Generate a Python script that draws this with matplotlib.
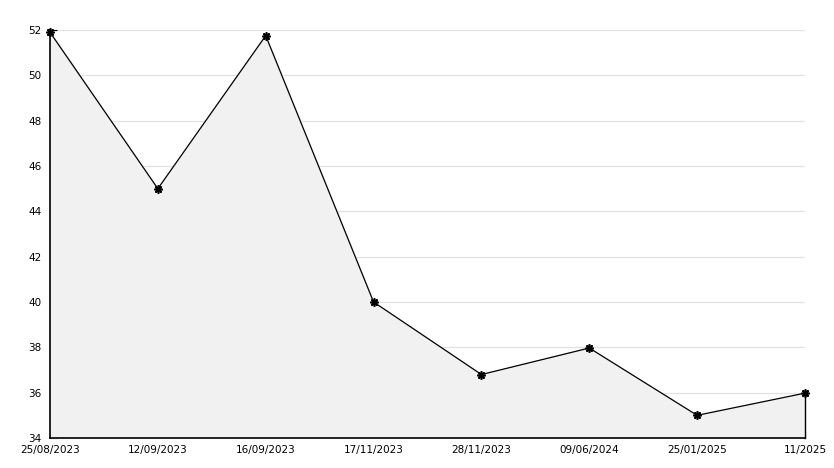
import matplotlib.pyplot as plt
from matplotlib.ticker import MultipleLocator

dates = ["25/08/2023", "12/09/2023", "16/09/2023", "17/11/2023",
         "28/11/2023", "09/06/2024", "25/01/2025", "11/2025"]
values = [51.9, 45.0, 51.75, 40.0, 36.8, 37.97, 35.0, 35.98]

W, H = 834, 468
fig = plt.figure(figsize=(W / 100, H / 100), dpi=100)
ax = fig.add_axes([50 / W, (H - 438) / H, (805 - 50) / W, (438 - 30) / H])

x = list(range(len(dates)))
ax.fill_between(x, values, 34, color="#f1f1f1", zorder=1)
ax.plot(x, values, color="black", lw=0.9, marker=(8, 2, 0), ms=6, mew=1.2,
        zorder=3, clip_on=False)
ax.plot([x[-1], x[-1]], [34, values[-1]], color="black", lw=1, zorder=3,
        clip_on=False)

ax.set_xlim(0, len(dates) - 1)
ax.set_ylim(34, 52)
ax.set_xticks(x)
ax.set_xticklabels(dates)
ax.yaxis.set_major_locator(MultipleLocator(2))
ax.yaxis.set_minor_locator(MultipleLocator(1))
ax.grid(axis="y", color="#e2e2e2", lw=0.9, zorder=0)
ax.set_axisbelow(True)

for s in ["top", "right"]:
    ax.spines[s].set_visible(False)
for s in ["left", "bottom"]:
    ax.spines[s].set_linewidth(1.2)

ax.tick_params(axis="both", direction="in", length=5, labelsize=7.5)
ax.tick_params(axis="y", which="minor", direction="in", length=4)
ax.tick_params(axis="x", pad=5)
ax.tick_params(axis="y", pad=6)

fig.canvas.draw()
ax.get_yticklabels()[0].set_va("bottom")

fig.savefig("out.png", dpi=100)
